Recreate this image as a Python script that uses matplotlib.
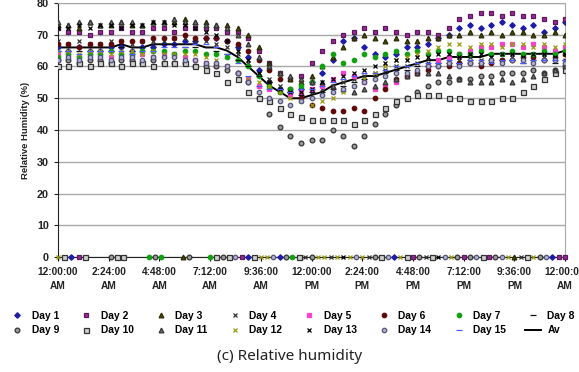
import numpy as np
import matplotlib
matplotlib.use("Agg")
import matplotlib.pyplot as plt
from matplotlib.lines import Line2D

# sampling times (hours after midnight), one reading every 30 min
hours = np.arange(0, 24.01, 0.5)

day1 = [66, 65, 66, 65, 65, 66, 66, 65, 66, 66, 67, 67, 68, 68, 69,
        69, 68, 66, 63, 59, 55, 53, 52, 53, 55,
        58, 62, 68, 69, 66, 64, 63, 64, 66, 66, 67, 69,
        70, 72, 73, 72, 73, 74, 73, 72, 73, 71, 72, 74]
day2 = [72, 71, 71, 70, 71, 71, 72, 71, 71, 72, 72, 71, 72, 72, 72,
        72, 71, 71, 69, 65, 61, 58, 56, 57, 61,
        65, 68, 70, 71, 72, 71, 72, 71, 70, 71, 71, 70,
        72, 75, 76, 77, 77, 76, 77, 76, 76, 75, 74, 75]
day3 = [73, 73, 72, 74, 73, 73, 74, 73, 73, 74, 74, 74, 75, 74, 74,
        73, 73, 72, 70, 66, 61, 58, 56, 55, 57,
        60, 63, 66, 69, 70, 69, 68, 69, 68, 68, 69, 69,
        70, 70, 71, 70, 71, 70, 71, 71, 70, 70, 71, 70]
day4 = [68, 67, 68, 67, 67, 68, 68, 67, 68, 68, 68, 69, 69, 68, 68,
        67, 66, 64, 61, 58, 56, 54, 52, 51, 52,
        53, 54, 55, 56, 57, 58, 59, 60, 60, 61, 61, 62,
        62, 62, 63, 62, 63, 62, 63, 63, 62, 63, 63, 62]
day5 = [64, 64, 63, 64, 64, 63, 64, 64, 64, 63, 64, 64, 63, 62, 61,
        60, 60, 58, 56, 54, 53, 52, 51, 52, 53,
        54, 56, 58, 57, 55, 53, 54, 55, 57, 58, 60, 62,
        63, 64, 65, 66, 66, 67, 67, 66, 67, 66, 65, 66]
day6 = [67, 67, 66, 67, 67, 67, 68, 68, 68, 69, 69, 69, 70, 69, 69,
        69, 68, 67, 65, 62, 59, 56, 53, 50, 48,
        47, 46, 46, 47, 46, 50, 53, 56, 57, 58, 59, 60,
        60, 61, 61, 60, 61, 62, 62, 63, 63, 62, 63, 64]
day7 = [63, 64, 63, 64, 64, 65, 64, 64, 65, 65, 65, 64, 65, 65, 64,
        64, 63, 62, 60, 57, 54, 52, 53, 54, 55,
        60, 64, 61, 62, 64, 63, 64, 65, 64, 65, 64, 65,
        65, 64, 64, 65, 64, 64, 65, 64, 64, 65, 64, 65]
day8 = [65, 66, 65, 66, 66, 65, 66, 66, 66, 67, 67, 67, 66, 66, 66,
        65, 64, 62, 60, 57, 55, 53, 52, 51, 52,
        52, 53, 54, 55, 56, 57, 58, 59, 59, 60, 60, 61,
        61, 61, 62, 61, 62, 62, 62, 61, 62, 62, 61, 62]
day9 = [62, 62, 61, 62, 62, 61, 62, 62, 61, 62, 61, 61, 61, 60, 60,
        60, 59, 58, 55, 50, 45, 41, 38, 36, 37,
        37, 40, 38, 35, 38, 42, 45, 48, 50, 52, 54, 55,
        55, 56, 56, 57, 57, 58, 58, 58, 59, 58, 59, 60]
day10 = [60, 60, 61, 60, 61, 61, 60, 61, 61, 60, 61, 61, 61, 60, 59,
         58, 55, 56, 52, 50, 49, 47, 45, 44, 43,
         43, 43, 43, 42, 43, 45, 47, 49, 50, 51, 51, 51,
         50, 50, 49, 49, 49, 50, 50, 52, 54, 56, 58, 59]
day11 = [74, 73, 74, 74, 73, 74, 74, 74, 73, 74, 74, 75, 74, 74, 73,
         73, 72, 70, 67, 63, 60, 58, 57, 56, 55,
         55, 54, 53, 52, 53, 54, 55, 56, 57, 58, 58, 58,
         57, 56, 55, 55, 55, 56, 55, 56, 57, 58, 59, 60]
day12 = [65, 65, 64, 65, 65, 64, 65, 65, 64, 65, 64, 64, 64, 64, 63,
         62, 60, 58, 56, 55, 54, 52, 50, 49, 48,
         49, 50, 52, 54, 56, 58, 60, 62, 63, 64, 65, 66,
         67, 67, 66, 67, 67, 66, 67, 67, 66, 67, 66, 67]
day13 = [72, 72, 73, 72, 73, 73, 72, 73, 73, 74, 74, 73, 73, 72, 71,
         70, 68, 65, 62, 58, 55, 53, 52, 52, 53,
         55, 56, 57, 58, 59, 60, 61, 62, 62, 63, 63, 64,
         64, 63, 64, 64, 63, 64, 64, 63, 64, 64, 63, 64]
day14 = [62, 63, 62, 63, 63, 62, 63, 63, 62, 63, 63, 63, 62, 62, 61,
         61, 60, 58, 55, 52, 50, 49, 48, 49, 50,
         51, 52, 53, 54, 55, 56, 57, 58, 58, 59, 60, 60,
         61, 60, 61, 61, 62, 61, 62, 62, 61, 62, 62, 61]
day15 = [65, 65, 64, 65, 65, 65, 65, 64, 65, 65, 66, 66, 66, 67, 67,
         66, 64, 61, 57, 54, 53, 53, 52, 53, 53,
         54, 55, 56, 57, 58, 58, 59, 60, 60, 61, 61, 61,
         62, 61, 62, 62, 61, 62, 62, 61, 62, 62, 62, 62]
average = [66, 66, 66, 66, 66, 66, 67, 66, 66, 67, 67, 67, 67, 67, 66,
           66, 65, 63, 60, 57, 54, 52, 50, 50, 51,
           52, 54, 55, 56, 57, 57, 58, 59, 60, 61, 62, 62,
           63, 63, 63, 63, 64, 64, 64, 64, 64, 64, 64, 65]

# logger readings that came back as 0 %
zero_hours = [0.0, 0.3, 0.6, 1.0, 1.3, 2.5, 2.8, 3.1, 4.3, 4.6, 4.9, 5.9, 6.2,
              7.2, 7.5, 7.8, 8.1, 8.4, 8.7, 9.0, 9.3, 9.6, 9.9, 10.2, 10.5,
              10.8, 11.1, 11.4, 11.7, 12.0, 12.3, 12.6, 12.9, 13.2, 13.5, 13.8,
              14.1, 14.4, 14.7, 15.0, 15.3, 15.6, 15.9, 16.2, 16.5, 16.8, 17.1,
              17.4, 17.7, 18.0, 18.3, 18.6, 18.9, 19.2, 19.5, 19.8, 20.1, 20.4,
              20.7, 21.0, 21.3, 21.6, 21.9, 22.2, 22.5, 22.8, 23.1, 23.4, 23.7, 24.0]
zero_days = [12, 10, 1, 2, 10, 9, 10, 10, 7, 9, 7, 3, 9,
             7, 10, 9, 10, 14, 2, 1, 10, 12, 12, 14, 1,
             9, 7, 10, 4, 9, 12, 12, 4, 12, 13, 12,
             14, 12, 4, 9, 10, 14, 1, 12, 10, 2, 9,
             4, 10, 13, 14, 12, 9, 2, 9, 14, 10, 2,
             9, 14, 12, 3, 4, 10, 12, 9, 14, 1, 2, 2]

day_labels = ["Day %d" % i for i in range(1, 16)]
tick_hours = [0, 2.4, 4.8, 7.2, 9.6, 12, 14.4, 16.8, 19.2, 21.6, 24]
tick_labels = ["12:00:00\nAM", "2:24:00\nAM", "4:48:00\nAM", "7:12:00\nAM",
               "9:36:00\nAM", "12:00:00\nPM", "2:24:00\nPM", "4:48:00\nPM",
               "7:12:00\nPM", "9:36:00\nPM", "12:00:00\nAM"]

series = [day1, day2, day3, day4, day5, day6, day7, day8,
          day9, day10, day11, day12, day13, day14, day15]

# marker, face colour, edge colour, size
styles = [
    ("D", "#1c1ca8", "#1c1ca8", 2.8),
    ("s", "#9a2a9a", "#5a1a5a", 3.4),
    ("^", "#4a4a10", "#2a2a00", 3.4),
    ("x", "#333333", "#333333", 3.2),
    ("s", "#ff3fd0", "#ff3fd0", 2.8),
    ("o", "#5e0a0a", "#5e0a0a", 3.2),
    ("o", "#10a010", "#10a010", 3.2),
    ("_", "#111111", "#111111", 4.2),
    ("o", "#9a9a9a", "#333333", 3.4),
    ("s", "#d0d0d0", "#333333", 3.6),
    ("^", "#707070", "#333333", 3.4),
    ("x", "#9a9a10", "#9a9a10", 3.2),
    ("x", "#000000", "#000000", 3.2),
    ("o", "#b0b0d0", "#55557a", 3.2),
    ("_", "#4a5aff", "#4a5aff", 4.2),
]

plt.rcParams["font.family"] = ["Liberation Sans", "DejaVu Sans"]

fig = plt.figure(figsize=(5.79, 3.72), dpi=100)
ax = fig.add_axes([0.100, 0.309, 0.876, 0.683])

ax.plot(hours, average, color="black", lw=1.4, zorder=2)

handles = []
for i, (vals, (mk, fc, ec, ms)) in enumerate(zip(series, styles)):
    ax.plot(hours, vals, linestyle="none", marker=mk, markersize=ms,
            markerfacecolor=fc, markeredgecolor=ec, markeredgewidth=0.9, zorder=3)
    zh = [h for h, d in zip(zero_hours, zero_days) if d == i + 1]
    if zh:
        ax.plot(zh, [0] * len(zh), linestyle="none", marker=mk, markersize=ms,
                markerfacecolor=fc, markeredgecolor=ec, markeredgewidth=0.9,
                zorder=3, clip_on=False)
    handles.append(Line2D([], [], linestyle="none", marker=mk, markersize=ms,
                          markerfacecolor=fc, markeredgecolor=ec, markeredgewidth=0.9))
handles.append(Line2D([], [], color="black", lw=1.4))
labels = day_labels + ["Av"]

# legend fills column by column; interleave so rows read Day 1..8 / Day 9..Av
order = [j for c in range(8) for j in (c, c + 8)]
handles = [handles[j] for j in order]
labels = [labels[j] for j in order]

ax.set_xlim(0, 24)
ax.set_ylim(0, 80)
ax.set_yticks(range(0, 81, 10))
ax.set_xticks(tick_hours)
ax.set_xticklabels(tick_labels, fontsize=7.3, fontweight="bold", color="#222222",
                   linespacing=1.5)
ax.tick_params(axis="y", labelsize=7.8, length=3, width=0.8, colors="#222222")
for t in ax.get_yticklabels():
    t.set_fontweight("bold")
ax.tick_params(axis="x", length=3, width=0.8, pad=4)
ax.yaxis.grid(True, color="#a8a8a8", lw=1.0)
ax.set_axisbelow(True)
ax.spines["left"].set_color("#222222")
ax.spines["bottom"].set_color("#222222")
ax.spines["top"].set_color("#a8a8a8")
ax.spines["right"].set_color("#a8a8a8")
ax.set_ylabel("Relative Humidity (%)", fontsize=6.8, fontweight="bold",
              color="#222222", labelpad=5)

fig.legend(handles, labels, ncol=8, loc="upper left",
           bbox_to_anchor=(0.0, 0.19), frameon=False,
           handlelength=1.6, handletextpad=0.6, columnspacing=1.85,
           labelspacing=0.45, prop={"weight": "bold", "size": 7.4})

fig.text(0.5, 0.043, "(c) Relative humidity", ha="center", va="center",
         fontsize=11, family="Noto Sans", color="#222222")

fig.savefig("out.png", dpi=100)
